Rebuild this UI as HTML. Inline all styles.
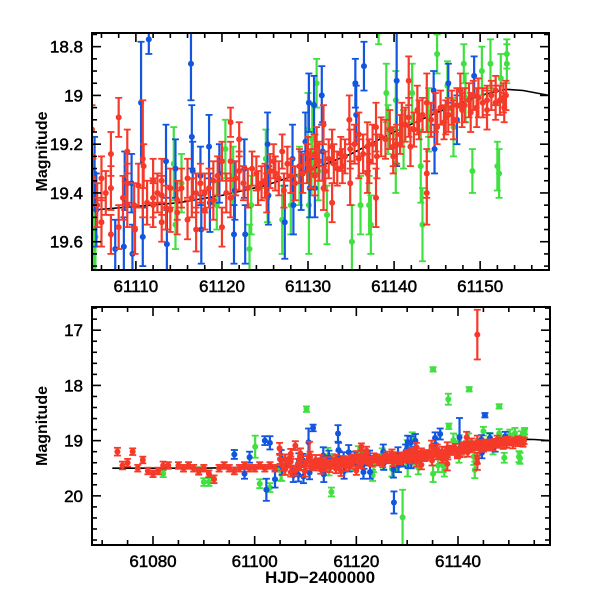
<!DOCTYPE html>
<html><head><meta charset="utf-8"><style>
html,body{margin:0;padding:0;background:#fff;width:600px;height:600px;overflow:hidden}
svg text{font-family:"Liberation Sans",sans-serif;fill:#000}
</style></head><body>
<svg id="chart" width="600" height="600" xmlns="http://www.w3.org/2000/svg">
<defs>
<clipPath id="clipTop"><rect x="92" y="33" width="457" height="237"/></clipPath>
<clipPath id="clipBot"><rect x="92" y="307" width="458" height="238"/></clipPath>
</defs>
</svg>
<script>
// ---- data ----
const redT=[61073,61074,61075,61076,61077,61078,61079,61080,61081,61082,61083,61085,61086,61087,61088,61089,61090,61091,61092,61093,61094,61095,61096,61097,61098,61099,61100,61101,61102,61103,61104,
61104.9,61105,61106,61106,61107.1,61107.1,61107.1,61108,61108,61109,61109,61109,61109.8,61109.9,61110.8,61110.9,61112,61112,61112,61113,61113,61113,61114,61114,61114.8,61114.8,61116,61116,61117,61117,61118,61118,61119,61119,61120,61120,61121,61121,61121,61122,61122,61123,61124,61124.2,61125,61125.2,61126,61126.2,61127,61127.2,61128,61129,61130,61131,
61129.9,61130.8,61130.8,61131.8,61131.8,61132,61132.8,61132.8,61133,61133.8,61134,61134.8,61134.9,61134.9,61135.9,61135.9,61136.9,61136.9,61137.1,61137.9,61137.9,61138,61139,61139.9,61139.9,61140.7,61140.9,61141.7,61141.7,61141.9,61142.7,61142.9,61143.8,61143.8,61143.8,61143.8,61144.8,61145,61145.8,61146,61146.7,61146.9,61147.7,61147.9,61148.7,61148.9,61149.6,61149.8,61150.8,61150.8,61151.8,61151.8,61152.7,61152.8,
61105.5,61106.5,61108.5,61110.3,61111.3,61112.5,61113.5,61115.3,61116.5,61117.5,61118.5,61119.5,61120.5,61121.6,61122.5,61123.5,61124.6,61125.6,61126.6,61127.6,61128.5,61129.4,61130.3,61131.3,61132.4,61133.4,61134.3,61135.4,61136.4,61137.5,61138.5,61139.5,61140.3,61141.3,61142.3,61143.3,61144.3,61145.4,61146.3,61147.3,61148.2,61149.2,61150.3,61151.3,61152.3,61153];
const redM=[19.2,19.45,19.4,19.2,19.5,19.35,19.55,19.6,19.55,19.45,19.45,19.45,19.5,19.45,19.5,19.55,19.5,19.6,19.7,19.5,19.45,19.5,19.55,19.5,19.45,19.5,19.5,19.45,19.5,19.45,19.5,
19.14,19.34,19.34,19.52,19.38,19.24,19.57,19.09,19.54,19.23,19.36,19.45,19.45,19.55,19.26,19.29,19.35,19.42,19.45,19.35,19.52,19.41,19.38,19.47,19.43,19.48,19.34,19.51,19.4,19.55,19.4,19.47,19.35,19.43,19.27,19.54,19.11,19.27,19.42,19.18,19.31,19.38,19.32,19.38,19.35,19.4,19.27,19.32,19.23,19.39,19.33,19.29,19.24,19.21,
19.28,19.24,19.33,19.12,19.38,19.31,19.21,19.44,19.28,19.24,19.29,19.1,19.22,19.36,19.16,19.26,19.21,19.32,19.27,19.13,19.42,19.25,19.18,19.25,19.21,19.16,19.12,18.94,19.09,19.21,19.06,19.1,19.03,19.32,19.4,17.08,19.07,19.13,19.11,19.09,19.05,19.1,18.98,19.06,19.02,19.07,19.05,19.01,19.02,19.06,18.98,19.03,19.01,19.05,
19.45,19.4,19.42,19.37,19.44,19.4,19.46,19.38,19.42,19.36,19.38,19.33,19.4,19.34,19.36,19.3,19.36,19.31,19.34,19.28,19.36,19.32,19.3,19.27,19.26,19.3,19.25,19.2,19.24,19.2,19.17,19.14,19.2,19.12,19.14,19.08,19.1,19.05,19.08,19.04,19.04,19.0,19.03,19.0,19.02,19.0];
const redE=[0.07,0.07,0.07,0.06,0.06,0.06,0.06,0.06,0.06,0.07,0.06,0.06,0.06,0.06,0.06,0.06,0.06,0.06,0.07,0.06,0.06,0.06,0.06,0.06,0.06,0.06,0.06,0.06,0.06,0.06,0.06,
0.1,0.08,0.09,0.1,0.09,0.09,0.08,0.08,0.09,0.09,0.08,0.09,0.09,0.1,0.24,0.09,0.09,0.08,0.09,0.09,0.08,0.08,0.08,0.09,0.08,0.09,0.08,0.08,0.08,0.09,0.08,0.08,0.08,0.08,0.08,0.08,0.06,0.08,0.08,0.07,0.08,0.08,0.07,0.07,0.07,0.08,0.07,0.07,0.07,0.07,0.07,0.07,0.07,0.08,
0.08,0.08,0.08,0.08,0.09,0.08,0.07,0.08,0.08,0.07,0.07,0.1,0.08,0.09,0.09,0.08,0.1,0.08,0.09,0.1,0.12,0.09,0.08,0.07,0.08,0.08,0.09,0.1,0.08,0.08,0.1,0.08,0.12,0.1,0.13,0.45,0.08,0.07,0.07,0.07,0.07,0.08,0.07,0.07,0.07,0.08,0.08,0.08,0.06,0.08,0.06,0.07,0.06,0.06,
0.09,0.09,0.09,0.09,0.09,0.08,0.09,0.08,0.08,0.08,0.08,0.08,0.08,0.07,0.07,0.07,0.07,0.07,0.07,0.07,0.07,0.08,0.08,0.08,0.08,0.07,0.07,0.08,0.08,0.08,0.08,0.08,0.08,0.07,0.07,0.07,0.07,0.07,0.07,0.07,0.07,0.06,0.06,0.06,0.06,0.06];
const greenT=[61082,61089,61090,61091,61092,61096,61100.1,61101,61103,61105.1,61105.3,61110.2,61114.4,61114.6,61115.1,61115.3,61119.4,61120.4,61121.3,61123.2,61123.4,61125.1,61125.3,61127,61128,61129,61129.1,61130,61130.4,
61130.1,61130.5,61131,61131.2,61132.2,61135.1,61135.1,61136.1,61137.1,61137.3,61138.1,61138.2,61139.1,61139.3,61140.2,61140.2,61141.1,61142.1,61142.2,61143.1,61143.3,61144,61144,61145,61146.2,61146.9,61148.1,61148.3,61148.1,61149.1,61150.2,61151.2,61152,61152.2,61153.1,61153.1,61152.4];
const greenM=[19.6,19.55,19.75,19.75,19.7,19.25,19.11,19.78,19.85,19.52,19.58,18.43,19.28,19.53,19.93,19.36,19.45,19.22,19.33,19.63,19.45,19.26,19.42,19.51,19.45,19.33,20.39,19.14,19.29,
19.45,19.18,18.95,19.31,19.49,19.6,17.71,19.45,19.45,19.53,18.25,18.74,18.99,19.14,19.02,19.28,19.18,18.99,18.07,19.29,19.53,19.07,19.13,18.83,18.96,19.13,18.87,19.01,18.38,19.31,18.9,18.87,19.29,19.32,18.83,18.87,18.93];
const greenE=[0.06,0.07,0.07,0.07,0.07,0.08,0.2,0.08,0.08,0.2,0.15,0.05,0.15,0.1,0.08,0.12,0.1,0.12,0.12,0.1,0.12,0.12,0.1,0.14,0.12,0.12,0.5,0.15,0.12,
0.2,0.15,0.1,0.12,0.12,0.15,0.04,0.12,0.12,0.12,0.1,0.05,0.12,0.1,0.12,0.12,0.12,0.12,0.04,0.15,0.15,0.1,0.1,0.08,0.1,0.12,0.08,0.1,0.04,0.09,0.1,0.1,0.1,0.1,0.06,0.08,0.1];
const blueT=[61096,61098,61099,61102,61102.3,61103,61104,61105.2,61105.4,61107.6,61108.6,61108.7,61109.5,61109.6,61110.6,61110.8,61111.5,61113.5,61113.6,61114.6,61116.4,61116.5,61116.6,61117.5,61117.6,61118.5,61118.6,61119.7,61121.4,61121.5,61122.6,61122.7,61125.3,61125.4,61127.3,61127.4,61128.2,61128.3,61129.2,61130.1,61130.2,
61129.7,61130.7,61130.8,61131.6,61131.7,61135.5,61135.6,61136.5,61140.3,61144.6,61144.7,61145.3,61146.3,61147.3,61149.3];
const blueM=[19.25,19.6,19.3,19.0,19.89,19.04,19.7,19.32,19.47,19.63,19.62,19.35,19.36,19.65,19.03,19.58,18.77,19.27,19.61,19.3,18.87,19.17,19.31,19.33,19.55,19.21,19.44,19.32,19.57,19.39,19.3,19.57,19.2,19.41,19.52,20.12,19.26,19.45,19.35,19.03,19.38,
19.19,19.04,19.38,19.0,19.23,18.95,19.08,18.88,18.94,18.98,19.22,18.54,18.95,19.1,18.92];
const blueE=[0.08,0.09,0.1,0.08,0.2,0.12,0.15,0.15,0.15,0.12,0.12,0.12,0.12,0.12,0.25,0.12,0.06,0.15,0.14,0.12,0.15,0.13,0.12,0.12,0.14,0.13,0.12,0.12,0.12,0.12,0.12,0.12,0.13,0.12,0.15,0.2,0.14,0.12,0.12,0.12,0.12,
0.12,0.12,0.12,0.12,0.12,0.1,0.12,0.1,0.35,0.08,0.1,0.04,0.08,0.1,0.08];
const curveT=[61072,61080,61090,61100,61105,61110,61115,61120,61125,61130,61135,61140,61145,61150,61153,61155,61158];
const curveM=[19.5,19.5,19.5,19.48,19.47,19.455,19.44,19.41,19.37,19.31,19.24,19.15,19.07,19.0,18.975,18.98,19.0];
const topXTicks=[61110,61120,61130,61140,61150];
const topYTicks=[18.8,19,19.2,19.4,19.6];
const botXTicks=[61080,61100,61120,61140];
const botYTicks=[17,18,19,20];

// ---- drawing ----
const NS='http://www.w3.org/2000/svg';
const svg=document.getElementById('chart');
function el(tag,attrs,parent){const e=document.createElementNS(NS,tag);for(const k in attrs)e.setAttribute(k,attrs[k]);(parent||svg).appendChild(e);return e;}
const panels=[
 {key:'top',x0:92,x1:549,y0:33,y1:270,t0:61104.9,t1:61158.0,m0:18.744,m1:19.716,clip:'clipTop',xt:topXTicks,yt:topYTicks,xmin:2,ymin:0.05,major:10},
 {key:'bottom',x0:92,x1:550,y0:307,y1:545,t0:61068.0,t1:61158.1,m0:16.58,m1:20.89,clip:'clipBot',xt:botXTicks,yt:botYTicks,xmin:5,ymin:0.2,major:20}
];
const series=[['green','#3fe03f',greenT,greenM,greenE],['blue','#1256e0',blueT,blueM,blueE],['red','#f53a2a',redT,redM,redE]];
panels.forEach(p=>{
 const X=t=>p.x0+(t-p.t0)/(p.t1-p.t0)*(p.x1-p.x0);
 const Y=m=>p.y0+(m-p.m0)/(p.m1-p.m0)*(p.y1-p.y0);
 const g=el('g',{});
 
 
 const data=el('g',{'clip-path':'url(#'+p.clip+')'},g);
 
 
 let d='';
 curveT.forEach((t,i)=>{d+=(i?'L':'M')+X(t).toFixed(1)+','+Y(curveM[i]).toFixed(1);});
 const c=el('path',{d:d,fill:'none',stroke:'#000','stroke-width':1.6},data);
 
 
 series.forEach(([name,col,T,M,E])=>{
  const sg=el('g',{stroke:col,fill:col},data);
  
  
  for(let i=0;i<T.length;i++){
   const x=X(T[i]),y=Y(M[i]),ya=Y(M[i]-E[i]),yb=Y(M[i]+E[i]);
   const pt=el('g',{},sg);
   
   
   el('line',{x1:x,x2:x,y1:ya,y2:yb,'stroke-width':2.2},pt);
   el('line',{x1:x-3.5,x2:x+3.5,y1:ya,y2:ya,'stroke-width':1.8},pt);
   el('line',{x1:x-3.5,x2:x+3.5,y1:yb,y2:yb,'stroke-width':1.8},pt);
   el('circle',{cx:x,cy:y,r:3,stroke:'none'},pt);
  }
 });
 const fr=el('rect',{x:p.x0,y:p.y0,width:p.x1-p.x0,height:p.y1-p.y0,fill:'none',stroke:'#000','stroke-width':2},g);
 
 
 const ticks=el('g',{stroke:'#000','stroke-width':1.6},g);
 
 
 for(let t=Math.ceil(p.t0/p.xmin)*p.xmin;t<=p.t1;t+=p.xmin){
  const maj=Math.abs(t%p.major)<1e-6;
  const L=maj?9:5,x=X(t);
  el('line',{x1:x,x2:x,y1:p.y1,y2:p.y1-L},ticks);el('line',{x1:x,x2:x,y1:p.y0,y2:p.y0+L},ticks);
 }
 const n0=Math.ceil(p.m0/p.ymin-1e-6),n1=Math.floor(p.m1/p.ymin+1e-6);
 for(let n=n0;n<=n1;n++){
  const m=n*p.ymin,y=Y(m);
  const maj=p.yt.some(v=>Math.abs(v-m)<1e-6);
  const L=maj?9:5;
  el('line',{x1:p.x0,x2:p.x0+L,y1:y,y2:y},ticks);el('line',{x1:p.x1,x2:p.x1-L,y1:y,y2:y},ticks);
 }
 p.xt.forEach(v=>{const tx=el('text',{x:X(v),y:p.y1+22,'text-anchor':'middle','font-size':17,'stroke':'#000','stroke-width':0.5},g);tx.textContent=v;
  });
 p.yt.forEach(v=>{const tx=el('text',{x:p.x0-9,y:Y(v)+6,'text-anchor':'end','font-size':17,'stroke':'#000','stroke-width':0.5},g);tx.textContent=String(v);
  });
 const yc=(p.y0+p.y1)/2;
 const yt=el('text',{x:0,y:0,transform:'translate(47,'+yc+') rotate(-90)','text-anchor':'middle','font-size':16,'font-weight':'bold'},g);
 yt.textContent='Magnitude';
 
 
});
const xt=el('text',{x:320,y:583,'text-anchor':'middle','font-size':17,'font-family':'Liberation Mono, monospace','font-weight':'bold'});
xt.textContent='HJD\u22122400000';


</script>
</body></html>
